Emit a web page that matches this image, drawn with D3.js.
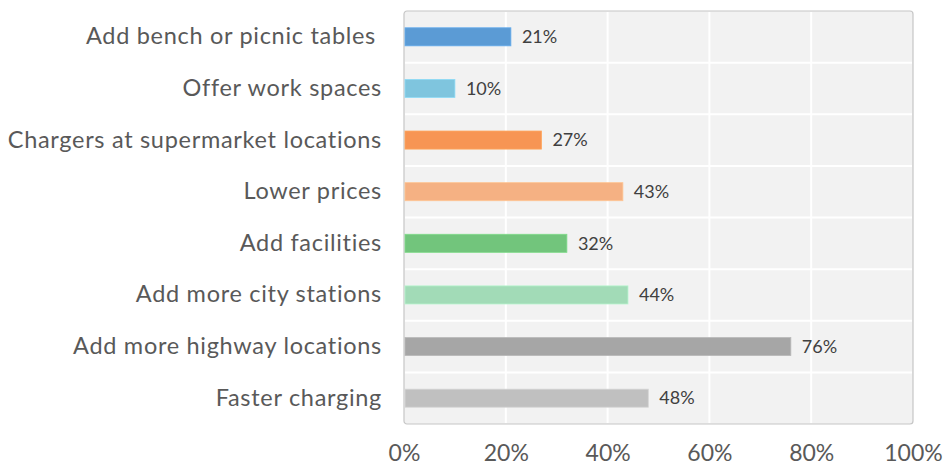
<!DOCTYPE html>
<html>
<head>
<meta charset="utf-8">
<script src="https://cdn.jsdelivr.net/npm/d3@7/dist/d3.min.js"></script>
<style>
  html, body { margin: 0; padding: 0; background: #ffffff; }
  svg { display: block; font-family: Lato, "Open Sans", sans-serif; }
</style>
</head>
<body>
<svg id="chart" width="945" height="466"></svg>
<script>
// Survey answers, top to bottom
const categories = [
  "Add bench or picnic tables",
  "Offer work spaces",
  "Chargers at supermarket locations",
  "Lower prices",
  "Add facilities",
  "Add more city stations",
  "Add more highway locations",
  "Faster charging"
];
const values = [21, 10, 27, 43, 32, 44, 76, 48];
const colors = ["#5b9bd5", "#7fc5de", "#f79554", "#f5b183", "#72c57c", "#a2dbb7", "#a6a6a6", "#c0c0c0"];
const tickValues = [0, 20, 40, 60, 80, 100];

const width = 945, height = 466;
const margin = { top: 11, right: 32, bottom: 42, left: 404 };
const innerW = width - margin.left - margin.right;
const innerH = height - margin.top - margin.bottom;

const svg = d3.select("#chart");
const g = svg.append("g").attr("transform", `translate(${margin.left},${margin.top})`);

const x = d3.scaleLinear().domain([0, 100]).range([0, innerW]);
const y = d3.scaleBand().domain(categories).range([0, innerH]).padding(0);
const barH = y.bandwidth() * 0.35;

// plot background
g.append("rect")
  .attr("x", 0).attr("y", 0)
  .attr("width", innerW).attr("height", innerH)
  .attr("rx", 3)
  .attr("fill", "#f2f2f2")
  .attr("stroke", "#c6c6c6")
  .attr("stroke-width", 1.2);

// vertical grid lines
g.append("g").selectAll("line")
  .data(tickValues.filter(t => t > 0 && t < 100))
  .join("line")
  .attr("x1", d => x(d)).attr("x2", d => x(d))
  .attr("y1", 1).attr("y2", innerH - 1)
  .attr("stroke", "#ffffff").attr("stroke-width", 2);

// horizontal separators between categories
g.append("g").selectAll("line")
  .data(categories.slice(1))
  .join("line")
  .attr("x1", 1).attr("x2", innerW - 1)
  .attr("y1", d => y(d)).attr("y2", d => y(d))
  .attr("stroke", "#ffffff").attr("stroke-width", 2);

// bars
g.append("g").selectAll("rect")
  .data(categories)
  .join("rect")
  .attr("x", x(0) + 1)
  .attr("y", d => y(d) + (y.bandwidth() - barH) / 2)
  .attr("width", (d, i) => x(values[i]) - x(0) - 1)
  .attr("height", barH)
  .attr("fill", (d, i) => colors[i])
  .attr("stroke", (d, i) => d3.color(colors[i]).brighter(0.3))
  .attr("stroke-width", 0.8);

// value labels
g.append("g").selectAll("text")
  .data(categories)
  .join("text")
  .attr("x", (d, i) => x(values[i]) + 11)
  .attr("y", d => y(d) + y.bandwidth() / 2)
  .attr("dy", "0.35em")
  .attr("fill", "#404040")
  .style("font-size", "18px")
  .text((d, i) => values[i] + "%");

// category labels
const yAxis = d3.axisLeft(y).tickSize(0).tickPadding(22);
const ya = g.append("g").call(yAxis);
ya.select(".domain").remove();
ya.selectAll("text")
  .attr("fill", "#595959")
  .style("font-size", "23.5px")
  .style("letter-spacing", "0.7px")
  .style("font-family", "Lato, 'Open Sans', sans-serif")
  .attr("dx", d => d === categories[0] ? -6 : 0);

// percentage axis
const xAxis = d3.axisBottom(x).tickValues(tickValues).tickFormat(d => d + "%").tickSize(0).tickPadding(21);
const xa = g.append("g").attr("transform", `translate(0,${innerH})`).call(xAxis);
xa.select(".domain").remove();
xa.selectAll("text")
  .attr("fill", "#595959")
  .style("font-size", "23px")
  .style("font-family", "Lato, 'Open Sans', sans-serif");
</script>
</body>
</html>
